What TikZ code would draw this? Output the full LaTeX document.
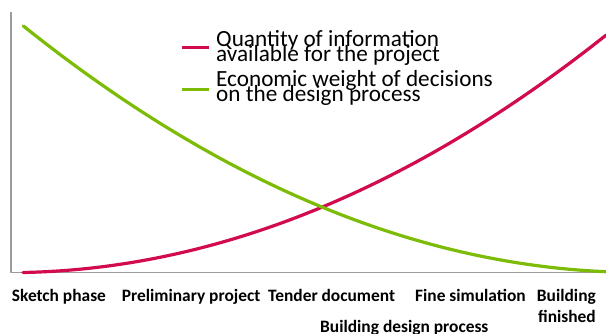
\documentclass[tikz,border=0pt]{standalone}
\usepackage{fontspec}
\setmainfont{Carlito}
\definecolor{infored}{RGB}{210,10,78}
\definecolor{weightgreen}{RGB}{124,188,6}
\definecolor{axisgray}{RGB}{160,155,150}
\newcommand\legendfont{\fontsize{23.2}{14.8}\selectfont\lineskiplimit-50pt\relax}
\begin{document}
\begin{tikzpicture}[x=1pt, y=-1pt, line join=round, line cap=round, smooth, samples=120,
  curve/.style={line width=3.2pt},
  legendtext/.style={anchor=base west, align=left, inner sep=0pt, font=\legendfont},
  phase/.style={inner sep=0pt, anchor=base west, font=\bfseries\fontsize{17.4}{20.6}\selectfont}]
\useasboundingbox (0,0) rectangle (606,333);
% hai truc
\draw[axisgray, line width=1.3pt, line cap=butt] (11,11.5) coordinate (ytop) -- (11,272.5) coordinate (O) -- (606,272.5) coordinate (xend);
% duong cong
\draw[curve, infored, domain=23:606] plot (\x, {272.5-6.64*((\x-23)/100)^2-0.02*(\x-23)});
\draw[curve, weightgreen, domain=23.3:606] plot (\x, {271.7-6.5*((606-\x)/100)^2-0.043*(606-\x)});
% chu thich
\node[legendtext] (qinfo) at (216,61.7) {Quantity of information\\available for the project};
\draw[curve, infored, line width=3pt, line cap=butt] (182,47.3) coordinate (qa) -- (209,47.3) coordinate (qb);
\node[legendtext] (eweight) at (216,101.7) {Economic weight of decisions\\on the design process};
\draw[curve, weightgreen, line width=3pt, line cap=butt] (182,89.3) coordinate (ea) -- (209,89.3) coordinate (eb);
% cac giai doan
\foreach \x/\name/\txt in {11.7/sketch/Sketch phase, 121.7/prelim/Preliminary project, 268/tender/Tender document, 415/fine/Fine simulation}
  \node[phase] (\name) at (\x,301.7) {\txt};
\node[phase, anchor=base east, align=right] (built) at (596,322.3) {Building\\finished};
\node[phase] (process) at (320,332.5) {Building design process};
\end{tikzpicture}
\end{document}
